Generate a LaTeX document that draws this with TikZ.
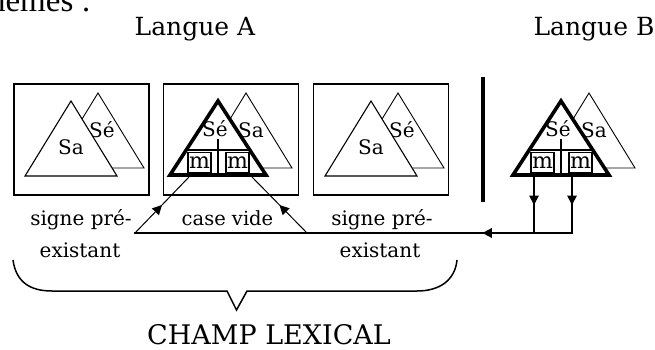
\documentclass[tikz,border=0pt]{standalone}
\usepackage{fontspec}
\setmainfont{DejaVu Serif}
\newfontfamily\pagefont{Liberation Serif}
\usetikzlibrary{arrows.meta,decorations.markings}
\newcommand{\SignPlain}[4]{%
  \draw[thintri] (#1+27,93) -- (#1+73,168) -- (#1-19,168) -- cycle;
  \node[lbl] (#4-back) at (#1+31,130) {#3};
  \draw[fronttri] (#1,101) -- (#1+46,176) -- (#1-46,176) -- cycle;
  \node[lbl] (#4-front) at (#1,147) {#2};
}
\newcommand{\SignBold}[2]{%
  \draw[thintri] (#1+28,93) -- (#1+74,168) -- (#1-18,168) -- cycle;
  \node[lbl] (#2-back) at (#1+33,130) {Sa};
  \draw[boldtri] (#1,101) -- (#1+48,175) -- (#1-48,175) -- cycle;
  \node[lbl] (#2-front) at (#1-3,129) {Sé};
  \draw[divline] (#1-32,150) -- (#1+32,150);
  \draw[divline] (#1,139) -- (#1,175);
  \node[mbox] (#2-m1) at (#1-18.5,162.5) {m};
  \node[mbox] (#2-m2) at (#1+19.5,162.5) {m};
}
\begin{document}
\begin{tikzpicture}[x=1pt,y=-1pt,
  lbl/.style={inner sep=0pt,font=\fontsize{20}{24}\selectfont},
  small/.style={inner sep=0pt,font=\fontsize{19.5}{24}\selectfont},
  big/.style={inner sep=0pt,font=\fontsize{25}{30}\selectfont},
  huge/.style={inner sep=0pt,text depth=0pt,font=\fontsize{27}{32}\selectfont},
  frame/.style={draw,line width=1.6pt,inner sep=0pt,minimum width=135pt,minimum height=111pt},
  thintri/.style={draw,line width=0.9pt,fill=white,line join=miter},
  fronttri/.style={draw,line width=1.1pt,fill=white,line join=miter},
  boldtri/.style={draw,line width=3.6pt,fill=white,line join=miter},
  divline/.style={line width=1.5pt},
  mbox/.style={draw,line width=1.3pt,minimum width=23pt,minimum height=20pt,inner sep=0pt,font=\fontsize{22}{24}\selectfont},
  hline/.style={line width=1.8pt,line cap=rect},
  dline/.style={line width=1pt},
  midarrow/.style={postaction={decorate},decoration={markings,mark=at position #1 with {\arrow{Triangle[length=9.5pt,width=9.5pt]}}}}
]
\useasboundingbox (0,0) rectangle (655,350);
\clip (0,0) rectangle (655,350);
\fill[white] (0,0) rectangle (655,350);

% cut-off running text at the top
\node[inner sep=0pt,anchor=base east,font=\pagefont\fontsize{33}{36}\selectfont] (runtext) at (91,12) {monèmes :};

% titles
\node[big,anchor=base] (langA) at (195,36) {Langue A};
\node[big,anchor=base] (langB) at (594,36) {Langue B};

% frames
\node[frame] (box1) at (81.5,139.5) {};
\node[frame] (box2) at (231,139.5) {};
\node[frame] (box3) at (381,139.5) {};

% signs
\SignPlain{71}{Sa}{Sé}{s1}
\SignBold{218}{s2}
\SignPlain{371}{Sa}{Sé}{s3}
\SignBold{561}{sB}

% separating bar
\draw[line width=3.5pt] (483,77) -- (483,202);

% labels
\node[lbl,anchor=base] (l1a) at (81,225) {signe pré-};
\node[lbl,anchor=base] (l1b) at (80,257) {existant};
\node[small,anchor=base] (l2) at (227.5,225) {case vide};
\node[lbl,anchor=base] (l3a) at (382,225) {signe pré-};
\node[lbl,anchor=base] (l3b) at (380,257) {existant};

% connectors
\coordinate (hl) at (135,233);
\coordinate (hr) at (572,233);
\coordinate (hm) at (307,233);
\coordinate (hb) at (534,233);
\coordinate (t1) at (189,177);
\coordinate (t2) at (252,177);
\coordinate (u1) at (534,177);
\coordinate (u2) at (572,177);

\draw[hline,midarrow=0.5] (u1) -- (hb);
\draw[hline,midarrow=0.5] (u2) -- (hr);
\draw[hline,midarrow=0.205] (hr) -- (hl);
\draw[dline,midarrow=0.5] (hl) -- (t1);
\draw[dline,midarrow=0.5] (hm) -- (t2);

% brace
\draw[line width=1.5pt,line join=miter] (13,260) .. controls (16,282) and (30,291) .. (52,291)
  -- (227,291) -- (236.5,310) -- (247,291) -- (417,291)
  .. controls (440,291) and (455,280) .. (457,260);

\node[huge,anchor=base west] (champ) at (147,344) {CHAMP LEXICAL};
\end{tikzpicture}
\end{document}
